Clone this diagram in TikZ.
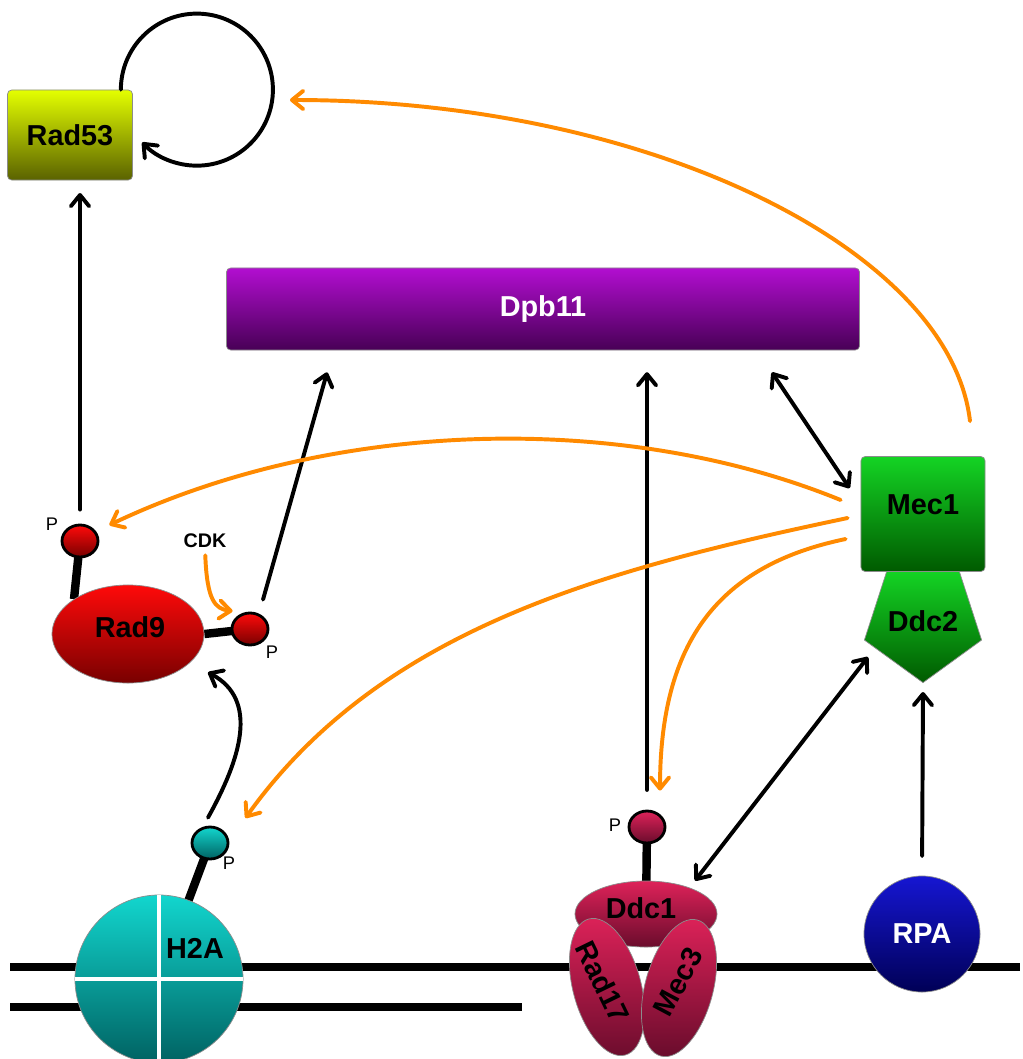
\documentclass[tikz,border=0pt]{standalone}
\usepackage{fontspec}
\setmainfont{Liberation Sans}
\usetikzlibrary{arrows.meta,shapes.geometric,backgrounds}

\definecolor{arrorange}{HTML}{FF8A00}
\definecolor{radtop}{HTML}{E4FF00}
\definecolor{radbot}{HTML}{5A6200}
\definecolor{dpbtop}{HTML}{B20ED0}
\definecolor{dpbbot}{HTML}{480056}
\definecolor{mectop}{HTML}{14D424}
\definecolor{mecbot}{HTML}{005A00}
\definecolor{redtop}{HTML}{FF0A0A}
\definecolor{redbot}{HTML}{780000}
\definecolor{tealtop}{HTML}{12D6CE}
\definecolor{tealbot}{HTML}{006262}
\definecolor{crimtop}{HTML}{DE2259}
\definecolor{crimbot}{HTML}{6A0C2C}
\definecolor{bluetop}{HTML}{1616D2}
\definecolor{bluebot}{HTML}{000056}

\begin{document}
\begin{tikzpicture}[x=0.025cm, y=-0.025cm,
    every node/.style={font=\fontsize{20.5}{24}\selectfont\bfseries, inner sep=0pt},
    protein/.style={draw=black!45, line width=0.5pt},
    pball/.style={ellipse, draw=black, line width=2pt, minimum width=0.9cm, minimum height=0.8cm},
    plabel/.style={font=\fontsize{13}{15}\selectfont},
    blackarr/.style={line width=2.8pt, line cap=round, -{Straight Barb[length=8pt,width=13pt,round]}},
    orangearr/.style={blackarr, draw=arrorange},
    dblarr/.style={line width=2.8pt, line cap=round, {Straight Barb[length=8pt,width=13pt,round]}-{Straight Barb[length=8pt,width=13pt,round]}},
    pstem/.style={line width=6pt},
    dna/.style={line width=5pt},
  ]
  \useasboundingbox (0,0) rectangle (1023,1059);

  % top boxes
  \node (rad53) [rectangle, protein, rounded corners=3pt, top color=radtop, bottom color=radbot, minimum width=3.125cm, minimum height=2.25cm] at (70,135) {Rad53};
  \node (dpb11) [rectangle, protein, rounded corners=3pt, top color=dpbtop, bottom color=dpbbot, minimum width=15.825cm, minimum height=2.05cm, text=white] at (543,309) {Dpb11};

  % Mec1-Ddc2
  \node (ddc2) [regular polygon, regular polygon sides=5, shape border rotate=180, protein, top color=mectop, bottom color=mecbot, minimum size=3cm] at (923,621) {Ddc2};
  \node (mec1) [rectangle, protein, rounded corners=3pt, top color=mectop, bottom color=mecbot, minimum width=3.1cm, minimum height=2.875cm] at (923,514) {};
  \node (mec1text) at (923,505) {Mec1};

  % Rad9 and its sites
  \node (rad9) [ellipse, protein, top color=redtop, bottom color=redbot, minimum width=3.8cm, minimum height=2.45cm] at (128,634) {};
  \node (rad9text) at (130,627) {Rad9};
  \node (rad9p1) [pball, top color=redtop, bottom color=redbot] at (80,541) {};
  \node (rad9p2) [pball, top color=redtop, bottom color=redbot] at (250,629) {};
  \node (rad9p1lab) [plabel] at (52,524) {P};
  \node (rad9p2lab) [plabel] at (272,652) {P};
  \node (cdk) [font=\fontsize{14}{16}\selectfont\bfseries] at (205,541) {CDK};

  % H2A
  \node (h2a) [circle, protein, top color=tealtop, bottom color=tealbot, minimum size=4.2cm] at (159,979) {};
  \draw[white, line width=3pt] (h2a.north) -- (h2a.south);
  \draw[white, line width=3pt] (h2a.west) -- (h2a.east);
  \node (h2atext) at (195,948) {H2A};
  \node (h2ap) [pball, top color=tealtop, bottom color=tealbot] at (210,843) {};
  \node (h2aplab) [plabel] at (229,863) {P};

  % 9-1-1 clamp
  \node (ddc1) [ellipse, protein, top color=crimtop, bottom color=crimbot, minimum width=3.55cm, minimum height=1.65cm] at (646,914) {};
  \node (ddc1text) at (641,908) {Ddc1};
  \node (rad17) [ellipse, protein, rotate=-75, top color=crimtop, bottom color=crimbot, minimum width=3.52cm, minimum height=1.7cm] at (607,987) {};
  \node (rad17text) [rotate=-64] at (603,982) {Rad17};
  \node (mec3) [ellipse, protein, rotate=75, top color=crimtop, bottom color=crimbot, minimum width=3.52cm, minimum height=1.7cm] at (679,988) {};
  \node (mec3text) [rotate=62] at (678,982) {Mec3};
  \node (ddc1p) [pball, top color=crimtop, bottom color=crimbot] at (647,827) {};
  \node (ddc1plab) [plabel] at (615,825) {P};

  % RPA
  \node (rpa) [circle, protein, top color=bluetop, bottom color=bluebot, minimum size=2.9cm, text=white] at (922,934) {RPA};

  % black arrows
  \draw[blackarr, shorten <=10pt, shorten >=9pt] (rad9p1.north) -- (rad9p1.north |- rad53.south);
  \draw[blackarr] ([xshift=-0.3cm]rad53.north east) arc[start angle=180, end angle=-136, radius=1.9cm];
  \draw[blackarr] ([xshift=0.325cm,yshift=0.3cm]rad9p2.north) -- ([xshift=2.525cm,yshift=-0.55cm]dpb11.south west);
  \draw[blackarr, shorten <=14pt, shorten >=15.5pt] (ddc1p.north) -- (ddc1p.north |- dpb11.south);
  \draw[dblarr] ([xshift=-2.2cm,yshift=-0.55cm]dpb11.south east) -- ([xshift=-0.275cm,yshift=-0.8cm]mec1.north west);
  \draw[blackarr] ([xshift=-0.05cm,yshift=0.2cm]h2ap.north) .. controls (240,760) and (260,700) .. ([xshift=2cm,yshift=0.275cm]rad9.south);
  \draw[dblarr] ([xshift=1.225cm]ddc1.north) -- ([xshift=-1.375cm,yshift=-0.9cm]ddc2.center);
  \draw[blackarr, shorten <=14pt] (rpa.north) -- ([yshift=-1.775cm]ddc2.center);

  % orange arrows
  \coordinate (loopin) at (290,100);
  \draw[orangearr] ([xshift=1.175cm,yshift=0.875cm]mec1.north) .. controls (950,250) and (650,100) .. (loopin);
  \draw[orangearr] ([xshift=-0.5cm,yshift=0.35cm]mec1.west) .. controls (620,410) and (330,420) .. ([xshift=0.25cm,yshift=0.4cm]rad9p1.east);
  \draw[orangearr] ([xshift=-0.325cm,yshift=-0.1cm]mec1.west) .. controls (600,570) and (380,630) .. ([xshift=0.4cm,yshift=0.625cm]h2ap.east);
  \draw[orangearr] ([xshift=-0.375cm,yshift=-0.625cm]mec1.west) .. controls (720,565) and (660,640) .. ([xshift=0.325cm,yshift=0.475cm]ddc1p.north);
  \draw[orangearr, shorten <=5pt] (cdk.south) .. controls (207,600) and (215,609) .. ([xshift=0.05cm,yshift=0.45cm]rad9p2.west);

  % DNA and stems behind
  \begin{pgfonlayer}{background}
    \fill[white] (0,0) rectangle (1023,1059);
    \coordinate (dnaonel) at (10,967);
    \coordinate (dnaoner) at (1020,967);
    \coordinate (dnatwol) at (10,1007);
    \coordinate (dnatwor) at (522,1007);
    \draw[dna] (dnaonel) -- (dnaoner);
    \draw[dna] (dnatwol) -- (dnatwor);
    \draw[pstem] (rad9p1.center) -- (rad9.north west);
    \draw[pstem] (rad9.east) -- (rad9p2.center);
    \draw[pstem] (h2ap.center) -- (h2a.center);
    \draw[pstem] (ddc1p.center) -- (ddc1.center);
  \end{pgfonlayer}
\end{tikzpicture}
\end{document}
